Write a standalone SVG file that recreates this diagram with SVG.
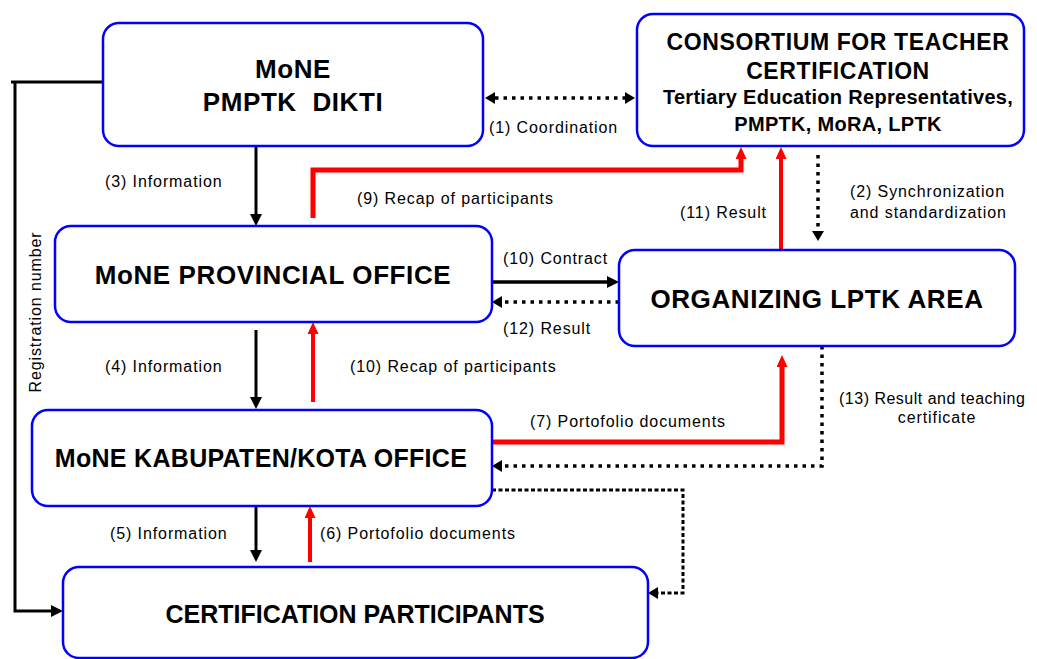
<svg xmlns="http://www.w3.org/2000/svg" width="1037" height="659" viewBox="0 0 1037 659">
<style>
.box{fill:#fff;stroke:#0000ff;stroke-width:2.5}
.t{font-family:"Liberation Sans",Arial,sans-serif;font-weight:bold;fill:#000;text-anchor:middle;white-space:pre}
.l{font-family:"Liberation Sans",Arial,sans-serif;font-size:16px;letter-spacing:0.9px;fill:#000}
.k{fill:none;stroke:#000;stroke-width:3}
.r{fill:none;stroke:#ff0000;stroke-width:5}
.d{fill:none;stroke:#000;stroke-width:3.5;stroke-dasharray:3.5 5}
.d2{fill:none;stroke:#000;stroke-width:3;stroke-dasharray:4 2.5}
</style>
<defs>
<marker id="ab" markerWidth="12" markerHeight="12" refX="0" refY="6" orient="auto" markerUnits="userSpaceOnUse"><path d="M0,0 L12,6 L0,12 z" fill="#000"/></marker>
<marker id="ar" markerWidth="12" markerHeight="11" refX="0" refY="5.5" orient="auto" markerUnits="userSpaceOnUse"><path d="M0,0 L12,5.5 L0,11 z" fill="#ff0000"/></marker>
<marker id="ad" markerWidth="10" markerHeight="12" refX="0" refY="6" orient="auto-start-reverse" markerUnits="userSpaceOnUse"><path d="M0,0 L10,6 L0,12 z" fill="#000"/></marker>
</defs>

<g id="connectors">
<path class="k" d="M103,82 H11"/>
<path class="k" d="M15,82 V611 H51" marker-end="url(#ab)"/>
<path class="d" d="M495,98 H625" marker-start="url(#ad)" marker-end="url(#ad)"/>
<path class="d" d="M818,155 V231" marker-end="url(#ad)"/>
<path class="k" d="M256,146 V214" marker-end="url(#ab)"/>
<path class="r" d="M313,218 V170 H741 V159" marker-end="url(#ar)"/>
<path class="r" style="stroke-width:4" d="M781,249 V159" marker-end="url(#ar)"/>
<path class="k" style="stroke-width:3.5" d="M492,282 H607" marker-end="url(#ab)"/>
<path class="d" d="M619,302 H502" marker-end="url(#ad)"/>
<path class="k" d="M256,330 V397" marker-end="url(#ab)"/>
<path class="r" style="stroke-width:4" d="M313,402 V334" marker-end="url(#ar)"/>
<path class="r" d="M492,442 H782 V367" marker-end="url(#ar)"/>
<path class="d" d="M822,346 V466 H502" marker-end="url(#ad)"/>
<path class="d2" d="M492,490 H683 V593 H658" marker-end="url(#ad)"/>
<path class="k" d="M256,506 V550" marker-end="url(#ab)"/>
<path class="r" style="stroke-width:4" d="M310,562 V518" marker-end="url(#ar)"/>
</g>

<g id="labels">
<text class="l" x="489" y="133">(1) Coordination</text>
<text class="l" x="850" y="197">(2) Synchronization</text>
<text class="l" x="850" y="218">and standardization</text>
<text class="l" x="105" y="187">(3) Information</text>
<text class="l" x="357" y="204">(9) Recap of participants</text>
<text class="l" x="680" y="218">(11) Result</text>
<text class="l" x="503" y="264">(10) Contract</text>
<text class="l" x="503" y="334">(12) Result</text>
<text class="l" x="105" y="372">(4) Information</text>
<text class="l" x="350" y="372">(10) Recap of participants</text>
<text class="l" x="530" y="427">(7) Portofolio documents</text>
<text class="l" style="letter-spacing:0.5px" x="839" y="404">(13) Result and teaching</text>
<text class="l" style="text-anchor:middle" x="937" y="423">certificate</text>
<text class="l" x="110" y="539">(5) Information</text>
<text class="l" x="320" y="539">(6) Portofolio documents</text>
<text class="l" style="text-anchor:middle" transform="translate(41,312) rotate(-90)">Registration number</text>
</g>

<g id="mone">
<rect class="box" x="103" y="23" width="380" height="123" rx="16"/>
<text class="t" style="font-size:26px;letter-spacing:0.6px" x="293" y="78">MoNE</text>
<text class="t" style="font-size:26px;letter-spacing:0.6px" x="293" y="111">PMPTK  DIKTI</text>
</g>

<g id="consortium">
<rect class="box" x="637" y="14" width="387" height="132" rx="16"/>
<text class="t" style="font-size:23px;letter-spacing:0.6px" x="838" y="50">CONSORTIUM FOR TEACHER</text>
<text class="t" style="font-size:23px;letter-spacing:0.6px" x="838" y="79">CERTIFICATION</text>
<text class="t" style="font-size:20px;letter-spacing:0.3px" x="838" y="104">Tertiary Education Representatives,</text>
<text class="t" style="font-size:20px;letter-spacing:0.3px" x="838" y="131">PMPTK, MoRA, LPTK</text>
</g>

<g id="provincial">
<rect class="box" x="55" y="226" width="437" height="96" rx="16"/>
<text class="t" style="font-size:26px;letter-spacing:0.6px" x="273" y="284">MoNE PROVINCIAL OFFICE</text>
</g>

<g id="lptk">
<rect class="box" x="619" y="250" width="396" height="96" rx="16"/>
<text class="t" style="font-size:26px;letter-spacing:0.6px" x="817" y="308">ORGANIZING LPTK AREA</text>
</g>

<g id="kabupaten">
<rect class="box" x="32" y="410" width="460" height="96" rx="16"/>
<text class="t" style="font-size:25px;letter-spacing:0.3px" x="261" y="467">MoNE KABUPATEN/KOTA OFFICE</text>
</g>

<g id="participants">
<rect class="box" x="63" y="567" width="585" height="91" rx="16"/>
<text class="t" style="font-size:25px" x="355" y="623">CERTIFICATION PARTICIPANTS</text>
</g>
</svg>
